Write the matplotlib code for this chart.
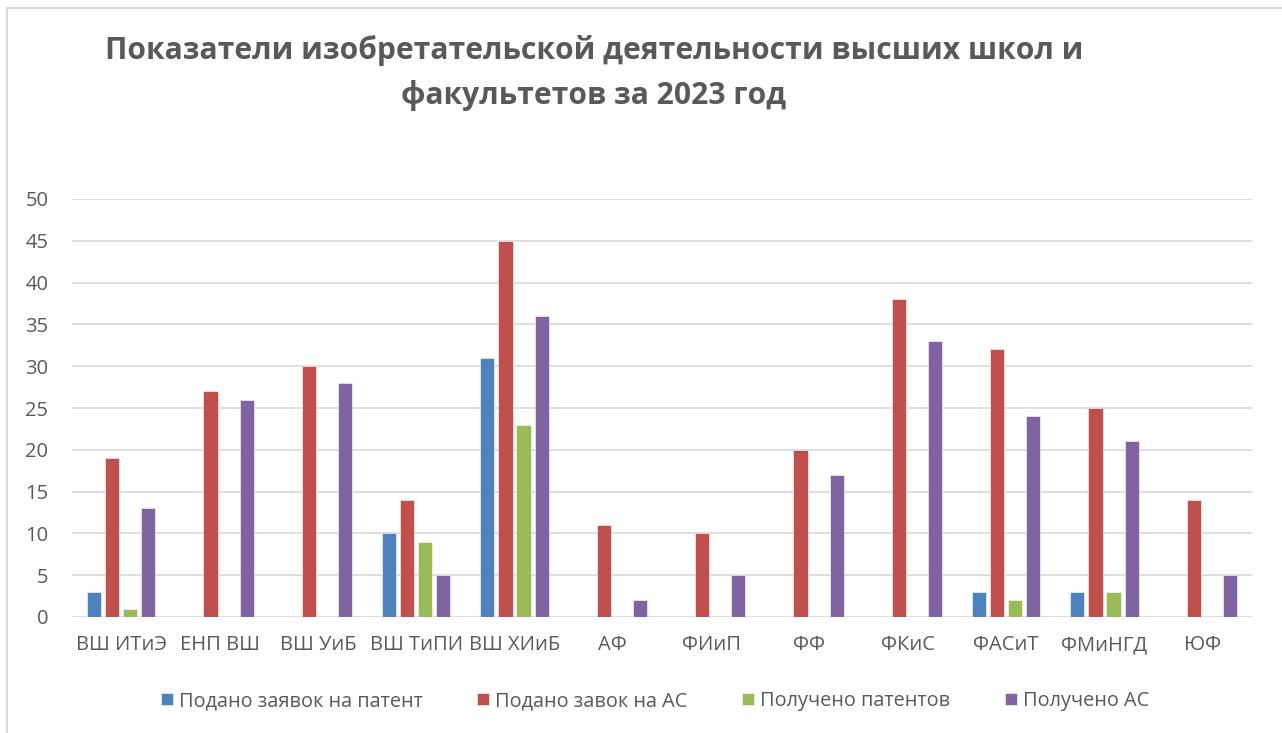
import matplotlib
matplotlib.use("Agg")
import matplotlib.pyplot as plt
import numpy as np
from matplotlib.patches import Rectangle

categories = ["ВШ ИТиЭ", "ЕНП ВШ", "ВШ УиБ", "ВШ ТиПИ", "ВШ ХИиБ", "АФ",
              "ФИиП", "ФФ", "ФКиС", "ФАСиТ", "ФМиНГД", "ЮФ"]
series_names = ["Подано заявок на патент", "Подано завок на АС",
                "Получено патентов", "Получено АС"]
patent_apps = [3, 0, 0, 10, 31, 0, 0, 0, 0, 3, 3, 0]
as_apps = [19, 27, 30, 14, 45, 11, 10, 20, 38, 32, 25, 14]
patents = [1, 0, 0, 9, 23, 0, 0, 0, 0, 2, 3, 0]
as_received = [13, 26, 28, 5, 36, 2, 5, 17, 33, 24, 21, 5]
yticks = [0, 5, 10, 15, 20, 25, 30, 35, 40, 45, 50]
title = "Показатели изобретательской деятельности высших школ и\nфакультетов за 2023 год"

colors = ["#4f81bd", "#c0504d", "#9bbb59", "#8064a2"]
plt.rcParams['font.family'] = ['Open Sans', 'Noto Sans', 'DejaVu Sans']

fig = plt.figure(figsize=(12.82, 7.33), dpi=100)
W, H = 1282, 733
# chart border
fig.patches.append(Rectangle((7 / W, -0.01), 1.02, 1 - 8 / H + 0.01, transform=fig.transFigure,
                             fill=False, edgecolor="#d9d9d9", linewidth=1.5))

ax = fig.add_axes([72 / W, 1 - 617 / H, (1252 - 72) / W, (617 - 199) / H])
x = np.arange(len(categories))
width = 0.145
step = 0.184
data = [patent_apps, as_apps, patents, as_received]
for i, (vals, c, name) in enumerate(zip(data, colors, series_names)):
    ax.bar(x + (i - 1.5) * step, vals, width, color=c, label=name, zorder=3,
           edgecolor="white", linewidth=0.4)

ax.set_xlim(-0.5, len(categories) - 0.5)
ax.set_ylim(0, 50)
ax.set_yticks(yticks)
ax.set_xticks(x)
ax.set_xticklabels(categories)
ax.tick_params(axis='both', length=0, labelsize=14.5, colors="#595959")
ax.tick_params(axis='x', pad=13)
ax.tick_params(axis='y', pad=17)
ax.grid(axis='y', color="#d9d9d9", linewidth=1.2, zorder=0)
for s in ax.spines.values():
    s.set_visible(False)

fig.text(594 / W, 1 - 73 / H, title, ha='center', va='center', fontsize=21.6,
         fontweight='bold', color="#595959", linespacing=1.62)

leg = fig.legend(loc='center', bbox_to_anchor=(655 / W, 1 - 701 / H), ncol=4,
                 frameon=False, fontsize=14.3, handlelength=0.6, handleheight=0.6,
                 handletextpad=0.3, columnspacing=2.75)
for t in leg.get_texts():
    t.set_color("#595959")

fig.savefig("out.png", dpi=100)
